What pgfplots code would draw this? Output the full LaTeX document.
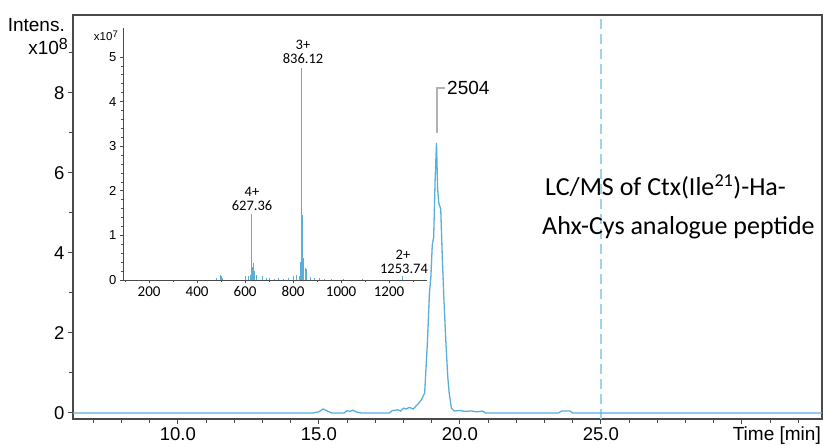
\documentclass[border=0pt]{standalone}
\usepackage{fontspec}
\setmainfont{Liberation Sans}
\newfontfamily\calibri{Carlito}
\usepackage{pgfplots}
\pgfplotsset{compat=1.18}
\definecolor{trace}{HTML}{5AAEDC}
\definecolor{dashc}{HTML}{9ED2F2}
\definecolor{framec}{HTML}{4A4A4A}

\begin{document}
\begin{tikzpicture}
\useasboundingbox (-73pt,-27pt) rectangle (750pt,419pt);

% main chromatogram
\begin{axis}[
  at={(0pt,0pt)}, anchor=south west,
  width=749pt, height=404pt, scale only axis,
  xmin=6.28, xmax=32.84, ymin=-0.15, ymax=9.95,
  axis line style={framec, line width=1.3pt},
  xtick={10,15,20,25,30}, xticklabels={10.0,15.0,20.0,25.0,{}},
  minor xtick={7,8,...,32},
  ytick={0,2,4,6,8}, minor ytick={1,3,5,7,9},
  tick align=outside, xtick pos=bottom, ytick pos=left,
  major tick length=5pt, minor tick length=4pt,
  tick style={framec, line width=1pt},
  tick label style={font=\fontsize{18.5}{20}\selectfont},
  /pgf/number format/assume math mode=true,
  clip=false,
]
\addplot[dashc, line width=1.3pt, dash pattern=on 10pt off 5pt]
  coordinates {(25,-0.15) (25,9.95)};
\addplot[trace, line width=1.3pt] coordinates {
  (6.28,0) (14.8,0) (15.0,0.03) (15.15,0.1) (15.3,0.05) (15.45,0)
  (15.9,0) (16.0,0.06) (16.1,0.04) (16.2,0.07) (16.35,0.02) (16.5,0)
  (17.5,0) (17.6,0.06) (17.8,0.08) (17.9,0.05) (18.0,0.12) (18.1,0.1)
  (18.2,0.14) (18.35,0.1) (18.45,0.18) (18.55,0.25) (18.65,0.35)
  (18.75,0.5) (18.85,1.8) (18.92,3.0) (18.97,3.4) (19.02,4.2)
  (19.07,4.4) (19.12,5.8) (19.17,6.75) (19.21,5.6) (19.25,5.25)
  (19.32,5.1) (19.38,3.8) (19.43,2.9) (19.5,1.8) (19.57,0.9)
  (19.62,0.5) (19.7,0.12) (19.8,0.05) (20.0,0.06) (20.2,0.04)
  (20.4,0.05) (20.6,0.03) (20.8,0.05) (20.9,0) (23.5,0) (23.6,0.05)
  (23.9,0.05) (24.0,0) (32.84,0)
};
\end{axis}

% inset mass spectrum
\begin{axis}[
  at={(50pt,139pt)}, anchor=south west,
  width=304pt, height=252pt, scale only axis,
  xmin=91, xmax=1358, ymin=0, ymax=5.65,
  axis x line*=bottom, axis y line*=left,
  axis line style={-, framec, line width=0.8pt},
  xtick={200,400,...,1200}, minor xtick={100,300,...,1300},
  ytick={0,1,...,5}, minor y tick num=4,
  tick align=outside,
  major tick length=3pt, minor tick length=2pt,
  tick style={framec, line width=0.7pt},
  xticklabel style={font=\calibri\fontsize{15}{16}\selectfont},
  yticklabel style={font=\fontsize{13}{14}\selectfont},
  /pgf/number format/assume math mode=true,
  /pgf/number format/1000 sep={},
]
\addplot[ycomb, trace, line width=0.8pt] coordinates {
  (480,0.05) (495,0.12) (500,0.1) (505,0.05) (600,0.08) (612,0.1)
  (620,0.12) (627.36,1.48) (630,0.3) (636,0.38) (640,0.2) (645,0.12)
  (672,0.08) (690,0.05) (700,0.04) (720,0.03) (740,0.04) (760,0.03)
  (780,0.05) (800,0.08) (815,0.12) (825,0.1) (832,0.4) (836.12,4.75)
  (838,1.45) (842,0.5) (850,0.28) (856,0.25) (870,0.06) (890,0.04)
  (910,0.05) (930,0.03) (960,0.03) (1010,0.03) (1090,0.03)
  (1253.74,0.08)
};
\end{axis}

% axis titles
\node[anchor=east, inner sep=0pt, font=\fontsize{19}{20}\selectfont] at (-8pt,394pt) {Intens.};
\node[anchor=east, inner sep=0pt, font=\fontsize{19}{20}\selectfont] at (-5pt,372pt) {x10\raisebox{5pt}{\fontsize{16}{16}\selectfont 8}};
\node[anchor=east, inner sep=0pt, font=\fontsize{19}{20}\selectfont] at (748pt,-17pt) {Time [min]};
\node[anchor=east, inner sep=0pt, font=\fontsize{11.5}{12}\selectfont] at (45pt,383pt) {x10\raisebox{3.5pt}{\fontsize{9.5}{10}\selectfont 7}};

% peak label
\draw[gray!60, line width=1.2pt] (364pt,286pt) -- (364pt,331pt) -- (372pt,331pt);
\node[anchor=west, inner sep=0pt, font=\fontsize{19}{20}\selectfont] at (374pt,331pt) {2504};

% inset annotations
\begin{scope}[every node/.style={inner sep=0pt, font=\calibri\fontsize{14.5}{15}\selectfont}]
\node at (230pt,374pt) {3+};
\node at (230pt,360pt) {836.12};
\node at (179pt,227pt) {4+};
\node at (179pt,213pt) {627.36};
\node at (330pt,164pt) {2+};
\node at (331pt,150pt) {1253.74};
\end{scope}

% description
\node[anchor=west, inner sep=0pt, font=\calibri\fontsize{26}{30}\selectfont] at (472pt,232pt) {LC/MS of Ctx(Ile\textsuperscript{21})-Ha-};
\node[anchor=west, inner sep=0pt, font=\calibri\fontsize{26}{30}\selectfont] at (469pt,191pt) {Ahx-Cys analogue peptide};
\end{tikzpicture}
\end{document}
